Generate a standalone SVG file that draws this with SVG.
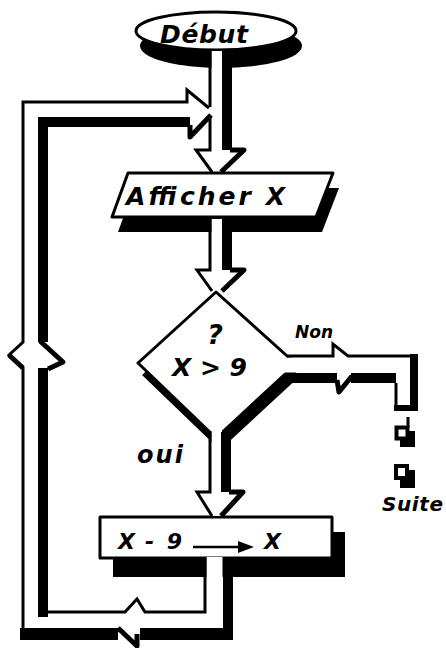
<svg xmlns="http://www.w3.org/2000/svg" width="446" height="648" viewBox="0 0 446 648">
<style>
.shadow{fill:#000}
.front{fill:#fff;stroke:#000;stroke-width:3;stroke-linejoin:round}
.thin{fill:none;stroke:#000;stroke-width:3;stroke-linejoin:miter}
.thick{fill:none;stroke:#000;stroke-width:10;stroke-linejoin:miter}
.mid{fill:none;stroke:#000;stroke-width:5;stroke-linejoin:round}
.band{fill:none;stroke:#000;stroke-width:12}
.cut{fill:#fff}
text{font-family:"DejaVu Sans","Liberation Sans",sans-serif;font-style:italic;font-weight:bold;fill:#000}
</style>
<rect width="446" height="648" fill="#fff"/>

<g id="debut">
  <ellipse class="shadow" cx="221" cy="46" rx="81" ry="22"/>
  <ellipse class="front" cx="216" cy="31" rx="80" ry="19"/>
  <text x="160" y="43" font-size="25" textLength="88" lengthAdjust="spacing">Début</text>
</g>

<g id="afficher">
  <polygon class="shadow" points="134,188 339,188 322,232 118,232"/>
  <polygon class="front" points="128,173 333,173 316,217 112,217"/>
  <text x="126" y="205" font-size="25" textLength="159" lengthAdjust="spacing">Afficher X</text>
</g>

<g id="test">
  <polygon class="shadow" points="220,304 300,376 220,450 142,375"/>
  <polygon class="front" points="216,292 296,364 216,438 138,363"/>
  <text x="215" y="344" font-size="27" text-anchor="middle">?</text>
  <text x="172" y="376" font-size="25" textLength="75" lengthAdjust="spacingAndGlyphs">X &gt; 9</text>
</g>

<g id="calc">
  <rect class="shadow" x="113" y="532" width="232" height="45"/>
  <rect class="front" x="100" y="517" width="232" height="41"/>
  <text x="118" y="549" font-size="22" textLength="64" lengthAdjust="spacing">X-9</text>
  <path d="M193,547 H240" stroke="#000" stroke-width="2.5" fill="none"/>
  <polygon points="238,541 254,547 238,553" fill="#000"/>
  <text x="264" y="549" font-size="22">X</text>
</g>

<g id="suite">
  <path class="thin" d="M408,417 V427"/>
  <rect class="shadow" x="400" y="431" width="15" height="16"/>
  <rect x="396.5" y="427.5" width="11" height="11" fill="#fff" stroke="#000" stroke-width="4"/>
  <rect class="shadow" x="400" y="470" width="15" height="18"/>
  <rect x="396" y="466" width="11" height="12" fill="#fff" stroke="#000" stroke-width="4"/>
  <text x="382" y="511" font-size="20" textLength="61" lengthAdjust="spacing">Suite</text>
</g>

<g id="connectors">
  <!-- Début to Afficher -->
  <rect class="cut" x="211.5" y="51" width="10.5" height="120"/>
  <path class="thin" d="M210,51 V107 M210,116 V150 H196 L212,172"/>
  <path class="thick" d="M227,51 V150"/>
  <path class="mid" d="M230,150 H244 L221,172"/>

  <!-- loop back: up the left side and into the top -->
  <path class="thin" d="M23,634 V368 L9,355 L23,342 V102 H187 V90 L209,108"/>
  <path class="mid" d="M9,355 L23,368"/>
  <path class="thick" d="M43,342 V122 H190"/>
  <path class="mid" d="M190,125 V137 L211,115"/>
  <path class="mid" d="M40,341 L63,362 L48,369"/>
  <path class="thick" d="M43,368 V617"/>

  <!-- Afficher to test -->
  <rect class="cut" x="211.5" y="219" width="10.5" height="71"/>
  <path class="thin" d="M210,219 V270 H197 L212,291"/>
  <path class="thick" d="M227,219 V270"/>
  <path class="mid" d="M230,270 H244 L222,291"/>

  <!-- test to calc (oui) -->
  <rect class="cut" x="211.5" y="424" width="10.5" height="92"/>
  <path class="thin" d="M210,431 V492 H197 L212,516"/>
  <path class="thick" d="M226,432 V492"/>
  <path class="mid" d="M229,492 H243 L221,516"/>
  <text x="137" y="463" font-size="24" textLength="46" lengthAdjust="spacing">oui</text>

  <!-- test to Suite (Non) -->
  <rect class="cut" x="282" y="357.5" width="113" height="15"/>
  <path class="thin" d="M287,356 H333 V344 L348,356 H414"/>
  <path class="thick" d="M286,378 H337 M351,378 H396"/>
  <path class="mid" d="M337,380 L339,392 L352,376"/>
  <path class="thin" d="M396,383 V406"/>
  <path d="M414,354 V411" stroke="#000" stroke-width="8" fill="none"/>
  <path d="M394,408 H418" stroke="#000" stroke-width="6" fill="none"/>
  <text x="295" y="338" font-size="17" textLength="38" lengthAdjust="spacing">Non</text>

  <!-- calc back into loop -->
  <rect class="cut" x="206.5" y="557" width="16" height="54"/>
  <path class="thin" d="M205,557 V612 H145 L137,599 L125,612 H43"/>
  <path class="thick" d="M228,560 V640"/>
  <path class="band" d="M20,634 H118 M140,634 H233"/>
  <path class="mid" d="M118,628 L137,646 V634"/>
</g>
</svg>
